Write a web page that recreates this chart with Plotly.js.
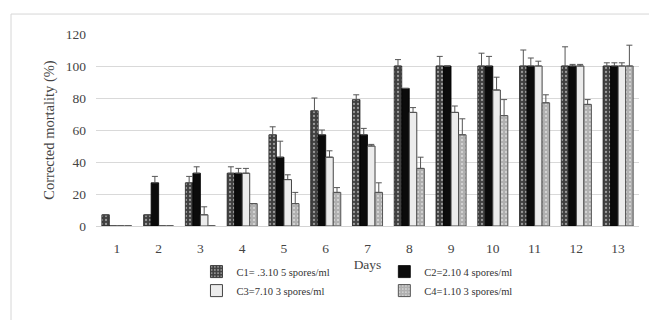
<!DOCTYPE html>
<html>
<head>
<meta charset="utf-8">
<script src="https://cdn.plot.ly/plotly-3.0.1.min.js"></script>
<style>html,body{margin:0;padding:0;background:#fff;}#chart{width:649px;height:320px;}</style>
</head>
<body>
<div id="chart"></div>
<script>
const days = ['1','2','3','4','5','6','7','8','9','10','11','12','13'];
const c1 = [7, 7, 27, 33, 57, 72, 79, 100, 100, 100, 100, 100, 100];
const c2 = [0, 27, 33, 33, 43, 57, 57, 86, 100, 100, 100, 100, 100];
const c3 = [0, 0, 7, 33, 29, 43, 50, 71, 71, 85, 100, 100, 100];
const c4 = [0, 0, 0, 14, 14, 21, 21, 36, 57, 69, 77, 76, 100];
const e1 = [0, 0, 4, 4, 5, 8, 3, 4, 6, 8, 10, 12, 2];
const e2 = [0, 4, 4, 3, 10, 3, 4, 0, 0, 6, 5, 1, 2];
const e3 = [0, 0, 5, 3, 3, 4, 1, 3, 4, 8, 3, 1, 2];
const e4 = [0, 0, 0, 0, 7, 3, 6, 7, 10, 10, 5, 3, 13];
const names = ['C1= .3.10 5 spores/ml', 'C2=2.10 4 spores/ml', 'C3=7.10 3 spores/ml', 'C4=1.10 3 spores/ml'];

function err(a){return {type:'data', array:a, arrayminus:a.map(()=>0), symmetric:false, color:'#555', thickness:1, width:3};}

const traces = [
  {type:'bar', x:days, y:c1, name:names[0], legend:'legend', error_y:err(e1),
   marker:{color:'#3c3c3c', line:{color:'#222', width:0.8}, pattern:{shape:'.', bgcolor:'#404040', fgcolor:'#9a9a9a', size:4, solidity:0.25}}},
  {type:'bar', x:days, y:c2, name:names[1], legend:'legend2', error_y:err(e2),
   marker:{color:'#0b0b0b', line:{color:'#000', width:0.8}}},
  {type:'bar', x:days, y:c3, name:names[2], legend:'legend', error_y:err(e3),
   marker:{color:'#ececec', line:{color:'#444', width:1}}},
  {type:'bar', x:days, y:c4, name:names[3], legend:'legend2', error_y:err(e4),
   marker:{color:'#b0b0b0', line:{color:'#555', width:1}, pattern:{shape:'.', bgcolor:'#b0b0b0', fgcolor:'#dcdcdc', size:4, solidity:0.2}}}
];

const tf = {family:'Liberation Serif, serif', size:13.5, color:'#444'};
const lf = {family:'Liberation Serif, serif', size:10.5, color:'#333'};
const layout = {
  width:649, height:320,
  margin:{l:96, r:10, t:34, b:94},
  paper_bgcolor:'#fff', plot_bgcolor:'#fff',
  barmode:'group', bargap:0.28, bargroupgap:0,
  font:tf,
  xaxis:{type:'category', tickfont:tf, showgrid:false, showline:true, linecolor:'#d4d4d4', ticks:'',
         ticklabelstandoff:10,
         title:{text:'Days', font:tf, standoff:4}},
  yaxis:{range:[0,120], dtick:20, tickfont:tf, showgrid:true, gridcolor:'#d9d9d9', zeroline:false, ticks:'',
         ticklabelstandoff:9,
         title:{text:'Corrected mortality (%)', font:{family:'Liberation Serif, serif', size:14.5, color:'#444'}, standoff:7}},
  legend:{x:0.185, xanchor:'left', y:-0.162, yanchor:'top', orientation:'v', font:lf, tracegroupgap:0, bgcolor:'rgba(0,0,0,0)'},
  legend2:{x:0.531, xanchor:'left', y:-0.162, yanchor:'top', orientation:'v', font:lf, tracegroupgap:0, bgcolor:'rgba(0,0,0,0)'},
  shapes:[{type:'rect', xref:'paper', yref:'paper', x0:-0.1565, x1:1.2, y0:-0.6, y1:1.104, line:{color:'#d6d6d6', width:1}, fillcolor:'rgba(0,0,0,0)', layer:'below'}]
};
Plotly.newPlot('chart', traces, layout, {displayModeBar:false, staticPlot:true});
</script>
</body>
</html>
